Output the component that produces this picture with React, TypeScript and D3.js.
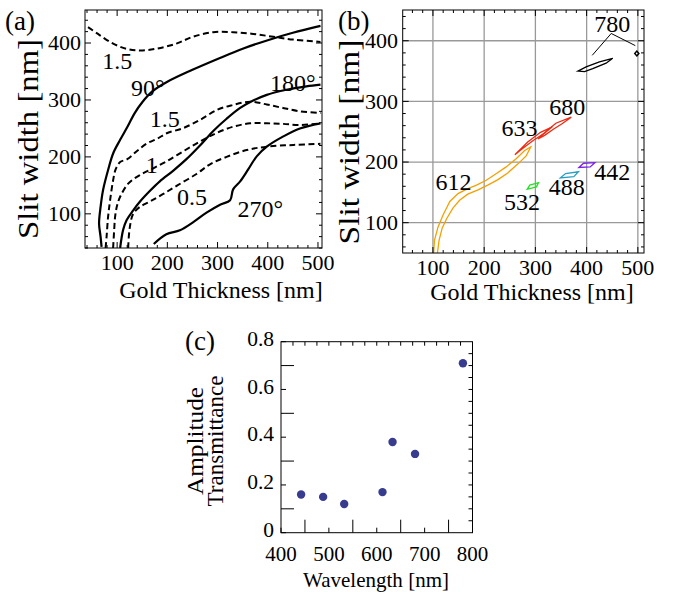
import React from "react";
import * as d3 from "d3";

type P = [number, number];

// panel (a) contour lines, [gold thickness, slit width] in nm
const phase90: P[] = [[69, 42], [67, 60], [64, 83], [67, 112], [72, 142], [82, 177], [92, 206], [106, 230], [120, 252], [135, 277], [150, 296], [170, 315], [200, 332], [250, 353], [300, 372], [350, 390], [400, 405], [450, 418], [505, 430]];
const phase180: P[] = [[106, 40], [112, 72], [119, 89], [132, 106], [146, 122], [165, 140], [185, 157], [212, 176], [238, 196], [265, 220], [292, 246], [318, 267], [345, 286], [371, 299], [398, 309], [437, 318], [477, 324], [505, 327]];
const phase270: P[] = [[173, 47], [198, 64], [225, 71], [251, 85], [278, 102], [305, 116], [325, 124], [331, 143], [345, 157], [361, 178], [378, 201], [398, 218], [431, 236], [464, 250], [505, 259]];
const ampTop15: P[] = [[42, 428], [65, 414], [92, 399], [118, 390], [145, 387], [178, 390], [218, 399], [251, 411], [291, 419], [331, 419], [371, 416], [411, 411], [451, 406], [505, 402]];
const amp15: P[] = [[77, 40], [79, 60], [82, 95], [86, 124], [92, 159], [97, 178], [106, 191], [120, 196], [139, 210], [160, 224], [180, 232], [200, 242], [230, 250], [265, 265], [300, 283], [330, 291], [365, 297], [398, 292], [430, 286], [465, 280], [505, 277]];
const amp1: P[] = [[92, 40], [94, 70], [96, 95], [100, 115], [106, 130], [122, 153], [145, 168], [172, 180], [198, 192], [232, 210], [265, 227], [298, 242], [331, 253], [365, 259], [398, 259], [431, 258], [465, 256], [505, 259]];
const amp05: P[] = [[122, 40], [125, 75], [132, 100], [145, 112], [166, 122], [192, 135], [220, 150], [258, 170], [285, 187], [318, 200], [358, 212], [398, 218], [451, 221], [505, 223]];
const labelsA = [
  { t: "1.5", x: 100, y: 370 },
  { t: "90°", x: 161, y: 321 },
  { t: "1.5", x: 195, y: 268 },
  { t: "1", x: 169, y: 186 },
  { t: "0.5", x: 249, y: 130 },
  { t: "270°", x: 385, y: 110 },
  { t: "180°", x: 450, y: 331 },
];

// panel (b) contours per wavelength, closed loops in nm
const loop612: P[] = [[101, 45], [103, 71], [110, 93], [120, 113], [133, 135], [149, 148], [165, 155], [185, 162], [204, 170], [224, 181], [243, 192], [263, 206], [279, 219], [291, 225], [282, 210], [266, 197], [246, 182], [227, 171], [207, 162], [188, 154], [168, 147], [152, 137], [139, 124], [127, 107], [118, 91], [112, 71], [108, 45]];
const loop633: P[] = [[260, 212], [285, 233], [310, 249], [333, 258], [318, 248], [295, 235], [270, 219]];
const loop680: P[] = [[305, 238], [322, 251], [340, 264], [370, 274], [352, 263], [335, 254], [318, 244]];
const loop532: P[] = [[284, 155], [289, 162], [306, 166], [302, 159]];
const loop488: P[] = [[349, 174], [359, 181], [384, 184], [375, 176]];
const loop442: P[] = [[385, 191], [394, 198], [416, 199], [407, 192]];
const loop780: P[] = [[383, 350], [399, 357], [425, 365], [451, 371], [438, 363], [412, 354], [396, 349]];
const dot780: P[] = [[494, 379], [498, 383], [502, 379], [498, 375]];
const leader780: P[] = [[411, 376], [448, 412], [495, 392]];
const labelsB = [
  { t: "780", x: 450, y: 429 },
  { t: "680", x: 362, y: 291 },
  { t: "633", x: 269, y: 256 },
  { t: "612", x: 140, y: 168 },
  { t: "532", x: 274, y: 135 },
  { t: "488", x: 361, y: 159 },
  { t: "442", x: 450, y: 184 },
];

// panel (c)
const wavelengths = [442, 488, 532, 612, 633, 680, 780];
const transmittance = [0.16, 0.15, 0.12, 0.17, 0.38, 0.33, 0.71];

const font = "'Liberation Serif', 'Times New Roman', Times, serif";

function FrameTicks({ x, y, bottom, top, left, right }: any) {
  const [x0, x1] = x.range();
  const [y0, y1] = y.range();
  const out: any[] = [];
  bottom.forEach(([v, l]: number[], i: number) => out.push(<line key={"b" + i} x1={x(v)} x2={x(v)} y1={y0} y2={y0 - l} />));
  top.forEach(([v, l]: number[], i: number) => out.push(<line key={"t" + i} x1={x(v)} x2={x(v)} y1={y1} y2={y1 + l} />));
  left.forEach(([v, l]: number[], i: number) => out.push(<line key={"l" + i} x1={x0} x2={x0 + l} y1={y(v)} y2={y(v)} />));
  right.forEach(([v, l]: number[], i: number) => out.push(<line key={"r" + i} x1={x1} x2={x1 - l} y1={y(v)} y2={y(v)} />));
  return (
    <g stroke="#000" strokeWidth={1}>
      {out}
      <rect x={x0} y={y1} width={x1 - x0} height={y0 - y1} fill="none" />
    </g>
  );
}

export default function App() {
  const xA = d3.scaleLinear().domain([36, 508]).range([85, 322]);
  const yA = d3.scaleLinear().domain([40, 458]).range([248, 10]);
  const xB = d3.scaleLinear().domain([41, 512]).range([402.7, 644]);
  const yB = d3.scaleLinear().domain([50, 450.7]).range([253, 10]);
  const xC = d3.scaleLinear().domain([400, 800]).range([281, 472.5]);
  const yC = d3.scaleLinear().domain([0, 0.8]).range([532.7, 341.7]);

  const lineA = d3.line<P>().x((d) => xA(d[0])).y((d) => yA(d[1])).curve(d3.curveCatmullRom.alpha(0.5));
  const loopB = d3.line<P>().x((d) => xB(d[0])).y((d) => yB(d[1])).curve(d3.curveLinearClosed);
  const openB = d3.line<P>().x((d) => xB(d[0])).y((d) => yB(d[1]));

  const nmTicks = (lo: number, hi: number) => d3.range(lo, hi + 1, 20).map((v) => [v, v % 100 === 0 ? 6 : 3]);
  const majorNm = [100, 200, 300, 400, 500];

  const xTickC = d3.range(400, 801, 50).map((v) => [v, v % 100 === 0 ? 5 : 13]);
  const yTickC = d3.range(0, 0.81, 0.1).map((v) => [v, Math.round(v * 10) % 2 === 0 ? 5 : 13]);

  const solid = { fill: "none", stroke: "#000", strokeWidth: 2.2 };
  const dashed = { ...solid, strokeWidth: 2, strokeDasharray: "6 3.5" };

  return (
    <svg width={678} height={592} style={{ position: "absolute", left: 0, top: 0, background: "#fff" }} fontFamily={font}>
      <defs>
        <clipPath id="clipA"><rect x={85} y={10} width={237} height={238} /></clipPath>
        <clipPath id="clipB"><rect x={402.7} y={10} width={241.3} height={243} /></clipPath>
      </defs>

      {/* (a) */}
      <text x={5} y={30} fontSize={27}>(a)</text>
      <g clipPath="url(#clipA)">
        {[phase90, phase180, phase270].map((d, i) => <path key={"s" + i} d={lineA(d) || ""} {...solid} />)}
        {[ampTop15, amp15, amp1, amp05].map((d, i) => <path key={"d" + i} d={lineA(d) || ""} {...dashed} />)}
      </g>
      <FrameTicks x={xA} y={yA} bottom={nmTicks(40, 500)} top={nmTicks(40, 500)} left={nmTicks(40, 440)} right={nmTicks(40, 440)} />
      {labelsA.map((l, i) => (
        <text key={i} x={xA(l.x)} y={yA(l.y)} dy="0.35em" textAnchor="middle" fontSize={24}>{l.t}</text>
      ))}
      {majorNm.map((v) => (
        <text key={v} x={xA(v)} y={270} textAnchor="middle" fontSize={22}>{v}</text>
      ))}
      {majorNm.slice(0, 4).map((v) => (
        <text key={v} x={81} y={yA(v)} dy="0.33em" textAnchor="end" fontSize={22}>{v}</text>
      ))}
      <text x={221} y={298} textAnchor="middle" fontSize={24}>Gold Thickness [nm]</text>
      <text transform={`translate(38,139) rotate(-90)`} textAnchor="middle" fontSize={29} textLength={200} lengthAdjust="spacingAndGlyphs">Slit width [nm]</text>

      {/* (b) */}
      <text x={338} y={30} fontSize={27}>(b)</text>
      <g stroke="#999" strokeWidth={1.3}>
        {majorNm.map((v) => <line key={"gx" + v} x1={xB(v)} x2={xB(v)} y1={yB.range()[0]} y2={yB.range()[1]} />)}
        {majorNm.slice(0, 4).map((v) => <line key={"gy" + v} x1={xB.range()[0]} x2={xB.range()[1]} y1={yB(v)} y2={yB(v)} />)}
      </g>
      <g clipPath="url(#clipB)" fill="none" strokeWidth={1.3}>
        <path d={loopB(loop612) || ""} stroke="#f5a000" />
        <path d={loopB(loop633) || ""} stroke="#ee2a12" />
        <path d={loopB(loop680) || ""} stroke="#ee2a12" />
        <path d={loopB(loop532) || ""} stroke="#22e022" />
        <path d={loopB(loop488) || ""} stroke="#2a9fc0" />
        <path d={loopB(loop442) || ""} stroke="#7a20e8" />
        <path d={loopB(loop780) || ""} stroke="#000" />
        <path d={loopB(dot780) || ""} stroke="#000" strokeWidth={1.5} />
        <path d={openB(leader780) || ""} stroke="#000" strokeWidth={1} />
      </g>
      <FrameTicks x={xB} y={yB} bottom={nmTicks(60, 500)} top={nmTicks(60, 500)} left={nmTicks(60, 440)} right={nmTicks(60, 440)} />
      {labelsB.map((l, i) => (
        <text key={i} x={xB(l.x)} y={yB(l.y)} dy="0.35em" textAnchor="middle" fontSize={24}>{l.t}</text>
      ))}
      {majorNm.map((v) => (
        <text key={v} x={xB(v)} y={275} textAnchor="middle" fontSize={22}>{v}</text>
      ))}
      {majorNm.slice(0, 4).map((v) => (
        <text key={v} x={398} y={yB(v)} dy="0.33em" textAnchor="end" fontSize={22}>{v}</text>
      ))}
      <text x={532} y={300} textAnchor="middle" fontSize={24}>Gold Thickness [nm]</text>
      <text transform={`translate(359,142) rotate(-90)`} textAnchor="middle" fontSize={29} textLength={205} lengthAdjust="spacingAndGlyphs">Slit width [nm]</text>

      {/* (c) */}
      <text x={185} y={350} fontSize={27}>(c)</text>
      <FrameTicks x={xC} y={yC} bottom={xTickC} top={d3.range(425, 800, 25).map((v) => [v, 4])} left={yTickC} right={d3.range(0.05, 0.8, 0.05).map((v) => [v, 4])} />
      {wavelengths.map((w, i) => (
        <circle key={w} cx={xC(w)} cy={yC(transmittance[i])} r={4.2} fill="#383c8f" />
      ))}
      {[400, 500, 600, 700, 800].map((v) => (
        <text key={v} x={xC(v)} y={561} textAnchor="middle" fontSize={21}>{v}</text>
      ))}
      {[0, 0.2, 0.4, 0.6, 0.8].map((v) => (
        <text key={v} x={274} y={yC(v) - 3} dy="0.33em" textAnchor="end" fontSize={21.5}>{v === 0 ? "0" : v.toFixed(1)}</text>
      ))}
      <text x={376} y={587} textAnchor="middle" fontSize={22} textLength={146} lengthAdjust="spacingAndGlyphs">Wavelength [nm]</text>
      <text transform={`translate(203,441) rotate(-90)`} textAnchor="middle" fontSize={23} textLength={108} lengthAdjust="spacingAndGlyphs">Amplitude</text>
      <text transform={`translate(223,441) rotate(-90)`} textAnchor="middle" fontSize={23}>Transmittance</text>
    </svg>
  );
}
